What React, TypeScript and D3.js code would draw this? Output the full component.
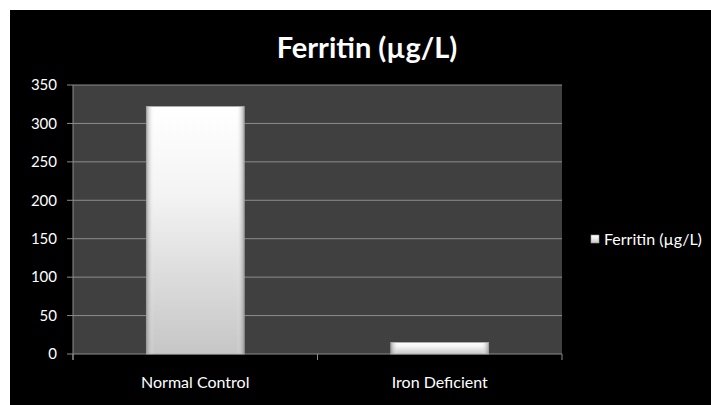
import React from 'react';
import * as d3 from 'd3';

const categories = ['Normal Control', 'Iron Deficient'];
const ferritin = [322, 15];
const yTicks = [0, 50, 100, 150, 200, 250, 300, 350];
const title = 'Ferritin (µg/L)';
const seriesName = 'Ferritin (µg/L)';

export default function App() {
  const width = 711;
  const height = 405;
  const plot = { left: 73, right: 562, top: 85, bottom: 354 };

  const x = d3
    .scaleBand<string>()
    .domain(categories)
    .range([plot.left, plot.right])
    .paddingInner(0.6)
    .paddingOuter(0.3);

  const y = d3.scaleLinear().domain([0, 350]).range([plot.bottom, plot.top]);

  const font = 'Lato, "Open Sans", sans-serif';
  const axisColor = '#8c8c8c';

  // category boundaries for ticks under the x axis
  const step = (plot.right - plot.left) / categories.length;
  const catTicks = d3.range(categories.length + 1).map((i) => plot.left + i * step);

  return (
    <svg
      width={width}
      height={height}
      style={{ position: 'absolute', left: 0, top: 0, display: 'block' }}
    >
      <defs>
        <linearGradient id="barV" x1="0" y1="0" x2="0" y2="1">
          <stop offset="0%" stopColor="#ffffff" />
          <stop offset="35%" stopColor="#f4f4f4" />
          <stop offset="100%" stopColor="#c6c6c6" />
        </linearGradient>
        <linearGradient id="barH" x1="0" y1="0" x2="1" y2="0">
          <stop offset="0%" stopColor="#8a8a8a" stopOpacity="0.7" />
          <stop offset="8%" stopColor="#ffffff" stopOpacity="0" />
          <stop offset="92%" stopColor="#ffffff" stopOpacity="0" />
          <stop offset="100%" stopColor="#8a8a8a" stopOpacity="0.7" />
        </linearGradient>
      </defs>

      <rect x={10} y={10} width={width - 10} height={height - 10} fill="#000000" />

      <text
        x={367}
        y={58}
        textAnchor="middle"
        fill="#ffffff"
        fontFamily={font}
        fontWeight="bold"
        fontSize={29}
      >
        {title}
      </text>

      <rect
        x={plot.left}
        y={plot.top}
        width={plot.right - plot.left}
        height={plot.bottom - plot.top}
        fill="#404040"
      />

      {yTicks.map((t) => (
        <g key={t}>
          {t > 0 && (
            <line
              x1={plot.left}
              x2={plot.right}
              y1={y(t)}
              y2={y(t)}
              stroke={axisColor}
              strokeWidth={1}
            />
          )}
          <line x1={plot.left - 6} x2={plot.left} y1={y(t)} y2={y(t)} stroke={axisColor} />
          <text
            x={plot.left - 16}
            y={y(t)}
            dy="0.35em"
            textAnchor="end"
            fill="#ffffff"
            fontFamily={font}
            fontSize={15}
          >
            {t}
          </text>
        </g>
      ))}

      <line x1={plot.left} x2={plot.left} y1={plot.top} y2={plot.bottom + 6} stroke={axisColor} />
      <line x1={plot.left} x2={plot.right} y1={plot.bottom} y2={plot.bottom} stroke={axisColor} />
      {catTicks.map((cx, i) => (
        <line key={i} x1={cx} x2={cx} y1={plot.bottom} y2={plot.bottom + 6} stroke={axisColor} />
      ))}

      {categories.map((c, i) => (
        <g key={c}>
          <rect
            x={x(c)}
            y={y(ferritin[i])}
            width={x.bandwidth()}
            height={y(0) - y(ferritin[i])}
            fill="url(#barV)"
            stroke="#b0b0b0"
            strokeWidth={0.8}
          />
          <rect
            x={x(c)}
            y={y(ferritin[i])}
            width={x.bandwidth()}
            height={y(0) - y(ferritin[i])}
            fill="url(#barH)"
          />
          <text
            x={(x(c) ?? 0) + x.bandwidth() / 2}
            y={388}
            textAnchor="middle"
            fill="#ffffff"
            fontFamily={font}
            fontSize={16}
          >
            {c}
          </text>
        </g>
      ))}

      <rect x={591} y={235} width={8} height={8} fill="url(#barV)" stroke="#999" strokeWidth={0.6} />
      <text x={604} y={245} fill="#ffffff" fontFamily={font} fontSize={16}>
        {seriesName}
      </text>
    </svg>
  );
}
